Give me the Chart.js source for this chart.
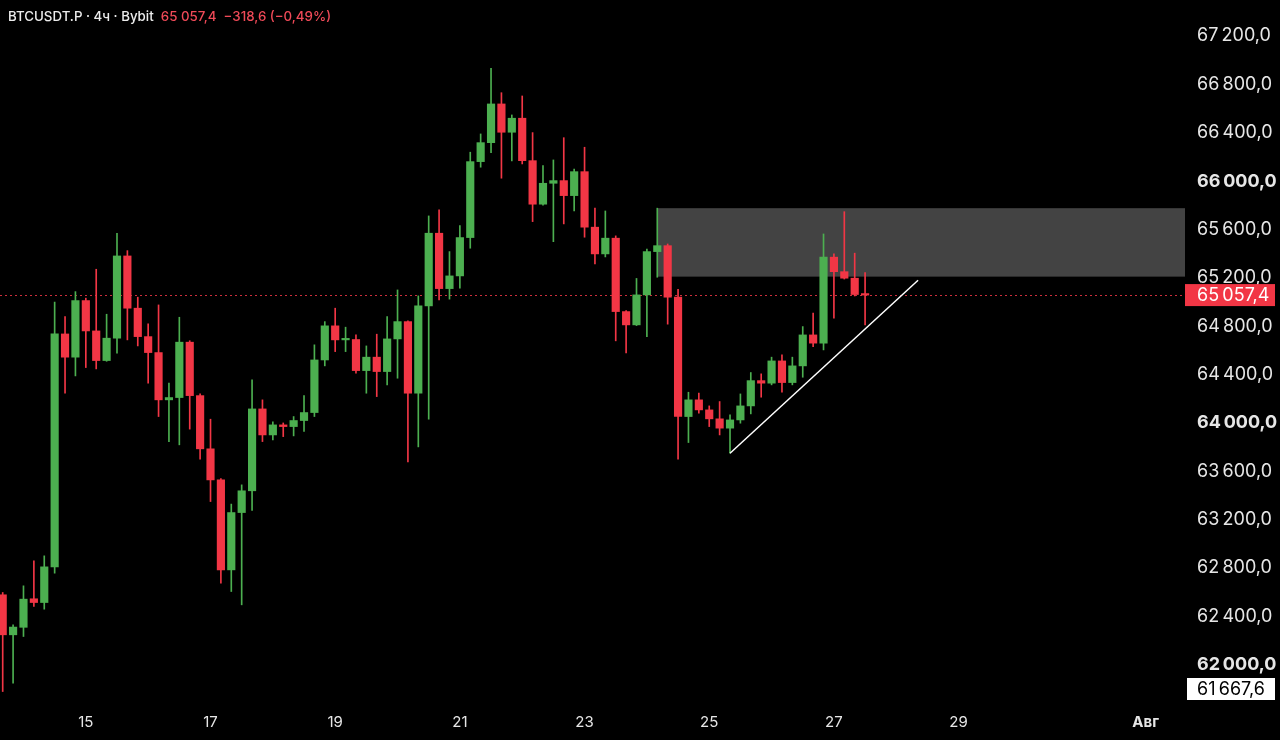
<!DOCTYPE html>
<html><head><meta charset="utf-8">
<script src="https://cdn.jsdelivr.net/npm/chart.js@4.4.1/dist/chart.umd.min.js"></script>
<style>
html,body{margin:0;padding:0;background:#000;}
#wrap{position:relative;width:1280px;height:740px;background:#000;}
#hdr{position:absolute;left:8px;top:8px;font:500 13.3px Inter,'Open Sans',sans-serif;color:#ececec;white-space:pre;z-index:2;}
#hdr .r{color:#f04a58;}
</style></head><body>
<div id="wrap"><canvas id="c" width="1280" height="740"></canvas>
<div id="hdr">BTCUSDT.P · 4ч · Bybit  <span class="r">65 057,4  −318,6 (−0,49%)</span></div></div>
<script>
// 4h candles, index 0..83
const opens  = [62579,62248,62310,62546,62515,62810,64736,64544,65012,64761,64516,64701,65381,64949,64714,64582,64191,64210,64668,64226,63786,63529,62785,63259,63439,64116,63901,63984,63970,64020,64086,64521,64803,64687,64690,64433,64544,64425,64695,64838,64246,64968,65569,65111,65216,65533,66161,66318,66638,66404,66520,66169,65809,65982,66004,65880,66078,65619,65398,65528,64921,64811,65059,65417,65466,65040,64053,64191,64108,64034,63957,64025,64141,64350,64329,64513,64334,64472,64728,64660,65371,65251,65197,65062];
const highs  = [62598,62331,62653,62860,62901,64999,64879,65086,65032,65271,64899,65569,65425,65040,64819,64976,64329,64874,64680,64240,64031,63540,63329,63488,64356,64191,64009,64000,64053,64226,64646,64838,64949,64792,64728,64637,64734,64879,65100,64845,65051,65712,65762,65417,65632,66239,66390,66933,66731,66547,66704,66401,66128,66175,66359,66100,66280,65776,65753,65547,64930,65195,65437,65776,65480,65106,64254,64246,64141,64177,64067,64240,64417,64406,64544,64563,64544,64797,64908,65563,65398,65747,65404,65243];
const lows   = [61779,61849,62234,62482,62460,62758,64246,64389,64458,64447,64510,64577,64687,64637,64329,64053,63846,63819,63949,63701,63350,62675,62606,62496,63277,63846,63860,63887,63893,63929,64053,64472,64590,64590,64412,64246,64218,64315,64370,63678,63802,64031,65018,65024,65114,65445,66115,66235,66024,66167,66142,65665,65800,65499,65646,65753,65536,65315,65373,64679,64579,64805,64714,65205,64817,63701,63838,64081,63970,63901,63750,63998,64075,64213,64315,64254,64315,64378,64631,64604,64866,65190,65050,64811];
const closes = [62248,62312,62543,62515,62810,64736,64544,65012,64761,64516,64701,65381,64949,64714,64582,64191,64210,64668,64226,63786,63529,62785,63259,63439,64116,63901,63984,63970,64020,64086,64521,64803,64687,64690,64433,64544,64425,64695,64838,64246,64968,65569,65111,65216,65533,66161,66318,66638,66404,66520,66169,65809,65982,66004,65880,66078,65619,65398,65528,64921,64811,65059,65417,65466,65040,64053,64191,64108,64034,63957,64025,64141,64350,64329,64513,64334,64472,64728,64660,65371,65251,65197,65062,65057.4];

const xTickIdx    = [8,20,32,44,56,68,80,92,110];
const xTickLabels = ['15','17','19','21','23','25','27','29','Авг'];
const yTicks      = [62000,62400,62800,63200,63600,64000,64400,64800,65200,65600,66000,66400,66800,67200];

const lastPrice = 65057.4;
const scaleLow  = 61667.6;
const yMax      = 67497.6;
const xMin = -0.26, xMax = 113.79;

const zoneStartIdx = 63;
const zoneHigh = 65776;
const zoneLow  = 65210;

const trendIdx    = [70, 88.1];
const trendPrices = [63750, 65180];

const UP = '#4caf50', DOWN = '#f23645';
const FONT = "Inter, 'Open Sans', sans-serif";

function fmt(v){
  const s = v.toFixed(1).split('.');
  const ip = s[0];
  const head = ip.slice(0, ip.length-3), tail = ip.slice(-3);
  return (head ? head + '\u202F' : '') + tail + ',' + s[1];
}

const idx = opens.map((_, i) => i);
const cols = idx.map(i => closes[i] >= opens[i] ? UP : DOWN);

function noPad(s){ s.paddingTop = 0; s.paddingBottom = 0; s.paddingLeft = 0; s.paddingRight = 0; }

const overlay = {
  id: 'overlay',
  beforeDatasetsDraw(chart){
    const {ctx, chartArea, scales:{x, y}} = chart;
    ctx.save();
    const x0 = x.getPixelForValue(zoneStartIdx);
    const yt = y.getPixelForValue(zoneHigh), yb = y.getPixelForValue(zoneLow);
    ctx.fillStyle = '#434343';
    ctx.fillRect(x0, yt, chartArea.right - x0, yb - yt);
    const yp = Math.round(y.getPixelForValue(lastPrice)) + 0.5;
    ctx.strokeStyle = 'rgba(242,54,69,0.85)';
    ctx.lineWidth = 1;
    ctx.setLineDash([2,3]);
    ctx.beginPath(); ctx.moveTo(chartArea.left, yp); ctx.lineTo(chartArea.right, yp); ctx.stroke();
    ctx.restore();
  },
  afterDraw(chart){
    const {ctx, chartArea, scales:{y}} = chart;
    ctx.save();
    ctx.font = '400 18px ' + FONT;
    ctx.textBaseline = 'middle';
    ctx.textAlign = 'left';
    const yp = y.getPixelForValue(lastPrice);
    ctx.fillStyle = DOWN;
    ctx.fillRect(chartArea.right, yp - 11, 90, 22);
    ctx.fillStyle = '#ffffff';
    ctx.fillText(fmt(lastPrice), chartArea.right + 12, yp + 1);
    const yl = Math.min(y.getPixelForValue(scaleLow), chartArea.bottom - 16);
    ctx.fillStyle = '#ffffff';
    ctx.fillRect(chartArea.right + 2, yl - 11, 88, 22);
    ctx.fillStyle = '#000000';
    ctx.fillText(fmt(scaleLow), chartArea.right + 12, yl + 1);
    ctx.restore();
  }
};

new Chart(document.getElementById('c'), {
  type: 'bar',
  data: {
    datasets: [
      { type:'bar', label:'wick', data: idx.map(i => ({x:i, y:[lows[i], highs[i]]})),
        backgroundColor: cols, barThickness: 1, grouped: false, order: 3 },
      { type:'bar', label:'body', data: idx.map(i => ({x:i, y:[opens[i], closes[i]]})),
        backgroundColor: cols, barThickness: 7.5, minBarLength: 1.5, grouped: false, order: 2 },
      { type:'line', label:'trend', data: trendIdx.map((v, k) => ({x:v, y:trendPrices[k]})),
        borderColor:'#ffffff', borderWidth:1.5, pointRadius:0, tension:0, order: 1 }
    ]
  },
  options: {
    responsive: false,
    animation: false,
    events: [],
    layout: { padding: 0 },
    plugins: { legend: { display:false }, tooltip: { enabled:false } },
    scales: {
      x: {
        type: 'linear', min: xMin, max: xMax, offset: false,
        grid: { display:false, drawTicks:false }, border: { display:false },
        ticks: {
          color:'#e6e6e6', padding: 8, autoSkip:false, maxRotation:0,
          font: c => ({ family: FONT, size: 15, weight: (c.tick && c.tick.value === 110) ? '700' : '400' }),
          callback: v => { const k = xTickIdx.indexOf(v); return k >= 0 ? xTickLabels[k] : ''; }
        },
        afterBuildTicks: s => { s.ticks = xTickIdx.map(v => ({value:v})); },
        afterFit: s => { s.height = 35; noPad(s); }
      },
      y: {
        type: 'linear', position: 'right', min: scaleLow, max: yMax,
        grid: { display:false, drawTicks:false }, border: { display:false },
        ticks: {
          color:'#e6e6e6', padding: 12,
          font: c => ({ family: FONT, size: 18, weight: (c.tick && c.tick.value % 2000 === 0) ? '700' : '400' }),
          callback: v => fmt(v)
        },
        afterBuildTicks: s => { s.ticks = yTicks.map(v => ({value:v})); },
        afterFit: s => { s.width = 95; noPad(s); }
      }
    }
  },
  plugins: [overlay]
});
</script>
</body></html>
